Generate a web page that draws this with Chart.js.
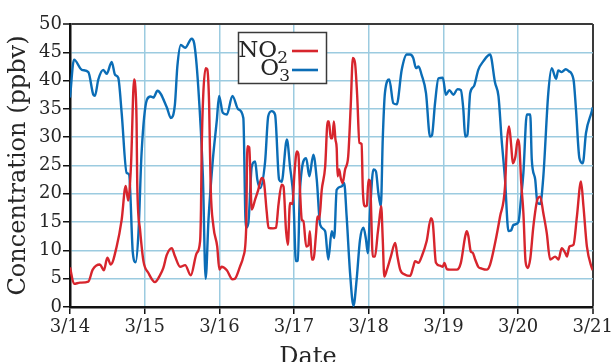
<!DOCTYPE html>
<html>
<head>
<meta charset="utf-8">
<script src="https://cdn.jsdelivr.net/npm/chart.js@4"></script>
<style>
  html, body { margin: 0; padding: 0; background: #ffffff; }
  #wrap { width: 616px; height: 362px; position: relative; }
</style>
</head>
<body>
<div id="wrap"><canvas id="c"></canvas></div>
<script>
// ---- data (hours since 3/14 00:00, concentration in ppbv) ----
const dayLabels = ['3/14', '3/15', '3/16', '3/17', '3/18', '3/19', '3/20', '3/21'];
const seriesNames = ['NO2', 'O3'];

const no2Hours = [
  0, 1.3, 3.2, 5.9, 7.3, 9.6, 10.9, 12.0, 13.1, 15.0,
  16.6, 17.9, 18.7, 19.6, 20.6, 20.9, 21.4, 21.6, 22.5, 23.6,
  25.2, 27.3, 28.9, 30.0, 31.1, 32.7, 33.7, 35.4, 37.0, 38.8,
  40.7, 41.8, 42.1, 42.3, 42.8, 43.6, 44.1, 44.7, 45.2, 46.1,
  47.3, 48.0, 48.7, 50.4, 52.2, 53.0, 54.6, 55.7, 56.6, 57.0,
  57.6, 58.4, 59.5, 60.5, 61.6, 62.2, 63.2, 63.8, 65.3, 66.2,
  67.0, 68.0, 68.6, 69.4, 70.0, 70.7, 71.5, 72.1, 72.9, 73.4,
  73.9, 74.5, 75.0, 75.9, 76.6, 77.1, 77.7, 78.2, 79.1, 79.5,
  80.1, 80.9, 82.0, 82.8, 83.2, 83.8, 84.3, 84.8, 85.3, 85.7,
  86.0, 86.5, 87.0, 87.6, 88.4, 89.4, 90.2, 90.9, 91.6, 92.3,
  93.0, 93.7, 94.1, 94.8, 95.4, 95.9, 96.4, 97.3, 98.0, 98.9,
  99.4, 100.0, 100.5, 101.0, 101.8, 103.1, 104.5, 105.2, 106.1, 107.7,
  109.3, 110.3, 110.9, 112.0, 113.0, 114.6, 116.0, 116.6, 117.6, 118.9,
  119.8, 120.3, 121.1, 122.1, 124.3, 125.6, 127.0, 127.5, 128.0, 128.8,
  129.4, 130.2, 131.2, 132.3, 133.9, 135.0, 136.6, 138.2, 139.8, 140.4,
  141.1, 141.8, 142.3, 143.1, 143.9, 144.4, 145.0, 145.7, 146.4, 147.1,
  147.9, 148.9, 150.2, 151.1, 152.1, 153.2, 154.3, 155.9, 157.0, 158.0,
  159.1, 159.7, 160.5, 161.8, 162.9, 164.2, 165.0, 166.1, 167.7, 168
];
const no2Values = [
  7.0, 4.1, 4.3, 4.5, 6.6, 7.5, 6.5, 8.7, 7.5, 10.7,
  15.4, 21.4, 18.8, 25.0, 40.2, 39.5, 32.5, 21.9, 13.7, 8.1,
  6.0, 4.4, 5.6, 6.9, 9.2, 10.4, 9.0, 7.1, 7.4, 5.6,
  9.5, 11.6, 17.5, 27.2, 37.2, 42.2, 42.0, 36.0, 21.3, 14.2,
  10.7, 6.6, 7.1, 6.5, 4.9, 5.0, 7.1, 8.9, 13.7, 28.4,
  28.2, 17.2, 19.0, 20.7, 22.8, 22.5, 16.9, 14.0, 13.9, 14.0,
  18.1, 21.6, 21.3, 13.7, 11.0, 18.4, 18.2, 23.4, 27.5, 27.0,
  20.7, 15.4, 15.2, 10.7, 10.9, 13.4, 8.4, 8.4, 13.2, 16.0,
  15.5, 20.7, 24.8, 32.8, 32.8, 29.8, 29.8, 32.8, 29.6, 28.1,
  23.1, 24.3, 22.8, 21.9, 24.3, 26.6, 35.4, 44.0, 43.1, 37.2,
  29.0, 28.8, 20.7, 17.8, 17.9, 22.5, 22.3, 8.9, 8.9, 13.1,
  15.4, 17.8, 12.0, 5.4, 6.5, 8.9, 11.3, 9.0, 6.6, 5.7,
  5.5, 7.1, 8.1, 7.8, 8.9, 11.6, 15.7, 14.8, 7.8, 7.3,
  7.1, 7.8, 6.7, 6.6, 6.6, 7.8, 12.5, 13.4, 12.6, 9.8,
  9.6, 8.4, 7.1, 6.8, 6.6, 7.5, 11.3, 16.0, 21.3, 29.0,
  31.9, 28.4, 25.4, 26.5, 29.6, 28.5, 22.0, 16.6, 8.0, 6.9,
  8.5, 14.2, 19.0, 19.5, 16.6, 13.1, 8.4, 8.9, 8.4, 10.4,
  9.6, 8.9, 10.7, 11.0, 16.0, 22.2, 17.8, 10.7, 6.9, 6.5
];

const o3Hours = [
  0, 1.3, 3.8, 5.9, 7.5, 8.0, 9.1, 10.7, 11.8, 13.4,
  14.5, 15.5, 16.6, 18.2, 19.0, 20.2, 21.1, 22.0, 23.0, 24.7,
  25.9, 26.8, 28.1, 31.1, 32.4, 33.7, 34.5, 35.6, 37.0, 39.1,
  39.9, 41.2, 42.7, 43.6, 44.5, 45.9, 47.2, 47.9, 49.1, 50.4,
  52.2, 54.1, 55.7, 56.5, 57.3, 58.4, 59.5, 60.2, 61.1, 62.7,
  63.7, 64.8, 65.9, 67.2, 68.0, 69.7, 70.7, 71.8, 72.6, 73.2,
  73.9, 75.9, 76.9, 78.2, 79.3, 80.4, 82.0, 83.0, 84.1, 84.9,
  85.7, 87.3, 88.1, 88.9, 90.0, 91.1, 92.1, 93.2, 94.3, 95.1,
  95.7, 96.4, 97.5, 98.3, 99.1, 99.9, 100.5, 101.2, 102.6, 103.9,
  105.0, 106.6, 108.2, 109.3, 110.3, 111.2, 112.0, 113.0, 114.4, 115.7,
  116.3, 117.3, 118.4, 119.8, 120.8, 121.9, 123.2, 124.5, 125.6, 126.4,
  127.0, 127.7, 128.6, 129.8, 131.2, 132.8, 135.0, 136.6, 137.7, 138.7,
  139.8, 140.9, 141.7, 142.5, 144.1, 144.9, 145.7, 146.8, 147.9, 148.4,
  149.5, 150.2, 151.1, 152.1, 153.7, 154.8, 156.2, 156.9, 158.0, 159.3,
  160.2, 161.8, 162.6, 163.7, 164.8, 165.8, 167.7, 168
];
const o3Values = [
  37.0, 43.7, 41.9, 41.5, 37.5, 37.3, 40.2, 41.9, 41.2, 43.3,
  41.0, 40.5, 34.3, 23.7, 23.4, 9.5, 7.9, 13.1, 27.2, 36.6,
  37.2, 37.0, 38.2, 35.3, 33.4, 35.7, 42.5, 46.3, 45.8, 47.4,
  46.6, 39.0, 23.1, 5.0, 15.4, 26.0, 33.1, 37.3, 34.3, 34.0,
  37.3, 34.9, 33.4, 14.0, 14.8, 24.8, 25.7, 22.5, 21.0, 25.7,
  33.7, 34.6, 34.0, 22.5, 22.1, 29.6, 24.8, 19.0, 8.1, 8.2,
  20.7, 26.3, 23.1, 26.9, 22.5, 14.5, 13.4, 8.4, 13.4, 12.2,
  20.7, 21.3, 21.9, 16.0, 6.0, 0.2, 4.8, 11.9, 14.0, 12.0,
  9.5, 16.6, 24.3, 24.0, 20.1, 17.8, 29.6, 37.8, 40.2, 36.0,
  35.8, 41.9, 44.6, 44.6, 44.0, 42.2, 42.5, 41.0, 37.8, 30.1,
  30.3, 36.0, 40.4, 40.5, 37.5, 38.3, 37.5, 38.5, 38.3, 34.9,
  30.1, 30.4, 37.8, 39.0, 41.9, 43.4, 44.6, 39.6, 37.2, 29.6,
  22.5, 13.4, 13.5, 14.5, 15.0, 19.0, 23.7, 34.0, 34.0, 26.0,
  22.5, 18.4, 18.2, 23.0, 37.8, 42.2, 40.3, 41.8, 41.5, 42.0,
  41.7, 40.2, 34.9, 26.3, 25.4, 30.7, 34.6, 35.3
];

// ---- build chart ----
const toPoints = (hours, vals) => hours.map((h, i) => ({ x: h / 24, y: vals[i] }));

const RED = '#d7252d';
const BLUE = '#0b6db6';
const GRID = '#9ccbe0';
const FRAME = '#3a3a3a';
const TEXT = '#262626';
const FONT = '"DejaVu Serif", "Liberation Serif", serif';

const overlay = {
  id: 'overlay',
  afterDraw(chart) {
    const ctx = chart.ctx;
    ctx.save();
    // legend box
    ctx.fillStyle = '#ffffff';
    ctx.fillRect(238, 32, 89, 52);
    ctx.strokeStyle = FRAME;
    ctx.lineWidth = 1.5;
    ctx.strokeRect(238.5, 32.5, 88, 51);
    ctx.fillStyle = TEXT;
    ctx.textBaseline = 'alphabetic';
    ctx.textAlign = 'left';
    const rows = [
      { main: 'NO', sub: '2', right: 288, base: 57, color: RED, lineY: 51 },
      { main: 'O', sub: '3', right: 290, base: 74.5, color: BLUE, lineY: 70 }
    ];
    rows.forEach(r => {
      ctx.font = '23px ' + FONT;
      const mw = ctx.measureText(r.main).width;
      ctx.font = '17px ' + FONT;
      const sw = ctx.measureText(r.sub).width;
      const x0 = r.right - sw - mw;
      ctx.font = '23px ' + FONT;
      ctx.fillText(r.main, x0, r.base);
      ctx.font = '17px ' + FONT;
      ctx.fillText(r.sub, x0 + mw, r.base + 6);
      ctx.strokeStyle = r.color;
      ctx.lineWidth = 2.6;
      ctx.beginPath();
      ctx.moveTo(292, r.lineY);
      ctx.lineTo(318, r.lineY);
      ctx.stroke();
    });
    // x axis title
    ctx.font = '24px ' + FONT;
    ctx.textAlign = 'center';
    ctx.fillStyle = TEXT;
    ctx.fillText('Date', 308, 364);
    ctx.restore();
  }
};

new Chart(document.getElementById('c'), {
  type: 'line',
  data: {
    datasets: [
      {
        label: seriesNames[0],
        data: toPoints(no2Hours, no2Values),
        borderColor: RED,
        borderWidth: 2.4,
        pointRadius: 0,
        cubicInterpolationMode: 'monotone',
        fill: false
      },
      {
        label: seriesNames[1],
        data: toPoints(o3Hours, o3Values),
        borderColor: BLUE,
        borderWidth: 2.4,
        pointRadius: 0,
        cubicInterpolationMode: 'monotone',
        fill: false
      }
    ]
  },
  options: {
    responsive: true,
    maintainAspectRatio: false,
    animation: false,
    events: [],
    layout: { padding: { top: 24, right: 23, bottom: 0, left: 0 } },
    plugins: {
      legend: { display: false },
      tooltip: { enabled: false },
      title: { display: false }
    },
    scales: {
      x: {
        type: 'linear',
        min: 0,
        max: 7,
        afterFit: s => { s.height = 55; },
        ticks: {
          stepSize: 1,
          padding: 3,
          color: TEXT,
          font: { family: FONT, size: 18 },
          callback: v => dayLabels[v]
        },
        grid: {
          color: c => (c.tick && c.tick.value === 7 ? FRAME : GRID),
          lineWidth: c => (c.tick && c.tick.value === 7 ? 2 : 1.5),
          tickColor: '#111',
          tickLength: 7,
          tickWidth: 1.5
        },
        border: { display: true, color: '#111', width: 2.5 }
      },
      y: {
        min: 0,
        max: 50,
        afterFit: s => { s.width = 70; },
        ticks: {
          stepSize: 5,
          padding: 1,
          color: TEXT,
          font: { family: FONT, size: 18 }
        },
        grid: {
          color: c => (c.tick && c.tick.value === 50 ? FRAME : GRID),
          lineWidth: c => (c.tick && c.tick.value === 50 ? 2 : 1.5),
          tickColor: '#111',
          tickLength: 7,
          tickWidth: 1.5
        },
        border: { display: true, color: '#111', width: 2.5 },
        title: {
          display: true,
          text: 'Concentration (ppbv)',
          color: TEXT,
          font: { family: FONT, size: 24 },
          padding: { top: 4, bottom: 0 }
        }
      }
    }
  },
  plugins: [overlay]
});
</script>
</body>
</html>
